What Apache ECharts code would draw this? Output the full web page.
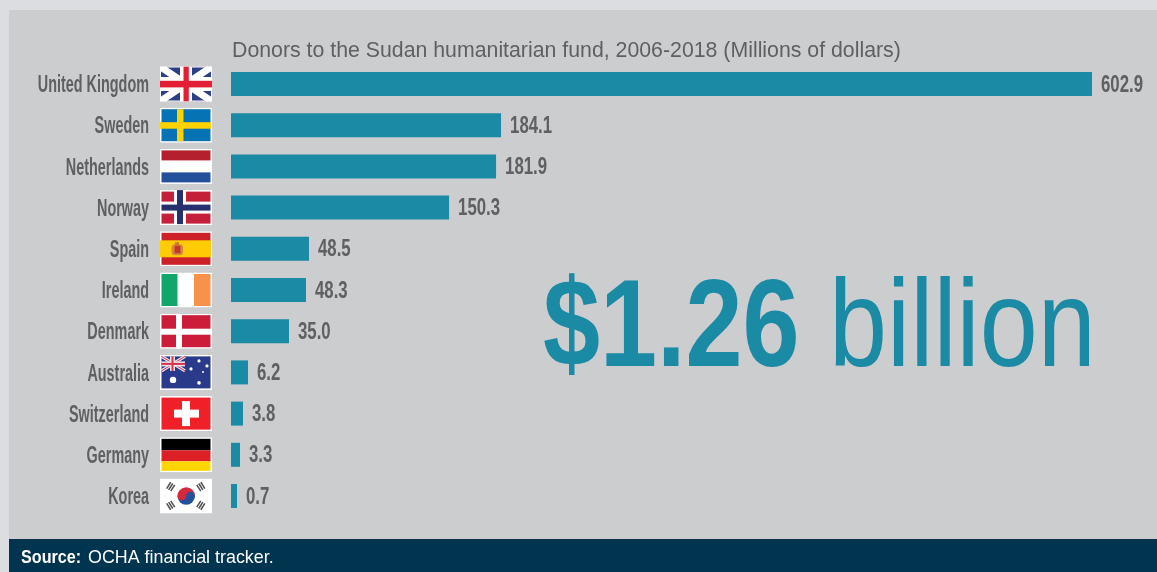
<!DOCTYPE html>
<html><head><meta charset="utf-8">
<style>html,body{margin:0;padding:0;background:#dcdde0}#c{width:1157px;height:572px}</style>
<script src="https://cdn.jsdelivr.net/npm/echarts@6/dist/echarts.min.js"></script>
</head><body><div id="c"></div>
<script>
const countries = ['United Kingdom','Sweden','Netherlands','Norway','Spain','Ireland','Denmark','Australia','Switzerland','Germany','Korea'];
// The figures printed in the reference.
const printedValues = ['602.9','184.1','181.9','150.3','48.5','48.3','35.0','6.2','3.8','3.3','0.7'];
// The reference's bars are not proportional to its printed figures (small bars are visibly too long),
// so these are the lengths as drawn in the units of the 602.9 bar.
const drawnBarLengths = [602.9,189.1,185.6,152.7,54.6,52.5,40.6,11.9,8.4,6.3,4.2];

const chartTitle = 'Donors to the Sudan humanitarian fund, 2006-2018 (Millions of dollars)';
const flags = [
 // UK
 `<rect width="52" height="35" fill="#fff"/><rect x="1" y="1" width="50" height="33" fill="#2b3d8b"/>
  <path d="M0 0L52 35M52 0L0 35" stroke="#fff" stroke-width="7"/>
  <rect x="20" width="12" height="35" fill="#fff"/><rect y="10.5" width="52" height="14" fill="#fff"/>
  <rect x="23.5" width="5.3" height="35" fill="#e21f36"/><rect y="14.3" width="52" height="6.6" fill="#e21f36"/>`,
 // Sweden
 `<rect width="52" height="35" fill="#fff"/><rect x="1.5" y="1.5" width="49" height="32" fill="#0573b4"/>
  <rect x="17" y="1.5" width="6.5" height="32" fill="#ffd200"/><rect x="0" y="14.5" width="51" height="6.5" fill="#ffd200"/>`,
 // Netherlands
 `<rect width="52" height="35" fill="#fff"/><rect x="1.5" y="1.5" width="49" height="10" fill="#b5202e"/>
  <rect x="1.5" y="23.5" width="49" height="10" fill="#24519b"/>`,
 // Norway
 `<rect width="52" height="35" fill="#fff"/><rect x="1.5" y="1.5" width="49" height="32" fill="#c4203a"/>
  <rect x="14" y="0" width="12" height="35" fill="#fff"/><rect x="0" y="11.5" width="52" height="12" fill="#fff"/>
  <rect x="17" y="0" width="6" height="34" fill="#27306f"/><rect x="1.5" y="14.5" width="49" height="6" fill="#27306f"/>`,
 // Spain
 `<rect width="52" height="35" fill="#fff"/><rect x="1.5" y="1.5" width="49" height="32" fill="#ce2027"/>
  <rect x="0" y="9" width="51" height="17" fill="#ffcb05"/>
  <rect x="11.5" y="13" width="11.5" height="11" rx="3.5" fill="#d88a3a"/><rect x="14.5" y="14.5" width="6" height="7.5" fill="#c23b2a"/>
  <rect x="15" y="11" width="4" height="3" fill="#c9772e"/>`,
 // Ireland
 `<rect width="52" height="35" fill="#fff"/><rect x="1.5" y="1.5" width="16" height="32" fill="#12a76a"/>
  <rect x="34" y="1.5" width="16.5" height="32" fill="#f7924a"/>`,
 // Denmark
 `<rect width="52" height="35" fill="#fff"/><rect x="1.5" y="1.5" width="49" height="32" fill="#cb1d3a"/>
  <rect x="16" y="0" width="6" height="35" fill="#fff"/><rect x="0" y="15" width="52" height="6" fill="#fff"/>`,
 // Australia
 `<rect width="52" height="35" fill="#fff"/><rect x="1.5" y="1.5" width="49" height="32" fill="#2a3a8a"/>
  <path d="M1.5 1.5L25 16M25 1.5L1.5 16" stroke="#e8e4ee" stroke-width="3"/><path d="M1.5 1.5L25 16M25 1.5L1.5 16" stroke="#d8324c" stroke-width="1"/>
  <rect x="10" y="1.5" width="5" height="14.5" fill="#e8e4ee"/><rect x="1.5" y="6.5" width="23.5" height="5" fill="#e8e4ee"/>
  <rect x="11.5" y="1.5" width="2" height="14.5" fill="#d8324c"/><rect x="1.5" y="8" width="23.5" height="2" fill="#d8324c"/>
  <circle cx="13" cy="25" r="3.2" fill="#fff"/><circle cx="39" cy="6" r="1.6" fill="#fff"/><circle cx="31" cy="14" r="1.6" fill="#fff"/>
  <circle cx="47" cy="11" r="1.6" fill="#fff"/><circle cx="39" cy="28" r="1.8" fill="#fff"/><circle cx="43" cy="17" r="1" fill="#fff"/>`,
 // Switzerland
 `<rect width="52" height="35" fill="#fff"/><rect x="1.5" y="1.5" width="49" height="32" fill="#ef2027"/>
  <rect x="22" y="5" width="8" height="25" fill="#fff"/><rect x="14" y="13.5" width="25" height="8" fill="#fff"/>`,
 // Germany
 `<rect width="52" height="35" fill="#fff"/><rect x="1.5" y="1.5" width="49" height="11.5" fill="#000"/>
  <rect x="1.5" y="13" width="49" height="11" fill="#dd1f26"/><rect x="1.5" y="24" width="49" height="9.5" fill="#ffd500"/>`,
 // Korea
 `<rect width="52" height="35" fill="#fff"/>
  <path d="M17.5 17.5A8.7 8.7 0 0 1 34.9 17.5Z" fill="#d6283a"/><path d="M17.5 17.5A8.7 8.7 0 0 0 34.9 17.5Z" fill="#24519b"/>
  <circle cx="21.85" cy="17.5" r="4.35" fill="#d6283a"/><circle cx="30.55" cy="17.5" r="4.35" fill="#24519b"/>
  <g stroke="#555" stroke-width="7.5" stroke-dasharray="1.6 .8" fill="none">
  <path d="M8 6.5L13.5 10"/><path d="M43.5 6.5L38 10"/><path d="M8 28.5L13.5 25"/><path d="M43.5 28.5L38 25"/></g>`
];
const flagUri = s => 'data:image/svg+xml;charset=utf-8,' + encodeURIComponent('<svg xmlns="http://www.w3.org/2000/svg" width="156" height="105" viewBox="0 0 52 35">' + s + '</svg>');

const sans = '"Liberation Sans",Arial,sans-serif';
const textColor = '#5f6062', teal = '#1a8aa5';
const chart = echarts.init(document.getElementById('c'), null, {renderer:'canvas'});
chart.setOption({
  animation:false,
  backgroundColor:'#dcdde0',
  grid:{left:231,right:65,top:63.4,bottom:55.4,containLabel:false,outerBoundsMode:'none'},
  xAxis:{type:'value',min:0,max:602.9,show:false},
  yAxis:{type:'category',inverse:true,data:countries,
    axisLine:{show:false},axisTick:{show:false},axisLabel:{show:false}},
  graphic:[
    {type:'rect',z:-10,silent:true,shape:{x:9,y:10,width:1148,height:529},style:{fill:'#cccdcf'}},
    {type:'rect',z:-10,silent:true,shape:{x:9,y:539,width:1148,height:33},style:{fill:'#00344f'}},
    {type:'text',x:232,y:51,scaleX:0.968,style:{text:chartTitle,fill:textColor,font:'22px '+sans,textVerticalAlign:'middle'}},
    {type:'text',x:21,y:558,scaleX:0.85,style:{text:'Source:',fill:'#fff',font:'bold 19px '+sans,textVerticalAlign:'middle'}},
    {type:'text',x:88,y:558,scaleX:0.94,style:{text:'OCHA financial tracker.',fill:'#fff',font:'19px '+sans,textVerticalAlign:'middle'}},
    {type:'text',x:543,y:332,scaleX:0.82,style:{text:'$1.26',fill:teal,font:'bold 125px '+sans,textVerticalAlign:'middle'}},
    {type:'text',x:829,y:332,scaleX:0.835,style:{text:'billion',fill:teal,font:'125px '+sans,textVerticalAlign:'middle'}}
  ],
  series:[
    {type:'bar',barWidth:24,itemStyle:{color:teal},data:drawnBarLengths},
    {type:'custom',coordinateSystem:'cartesian2d',silent:true,
     data:countries.map((c,i)=>[drawnBarLengths[i],c]),
     encode:{x:0,y:1},
     renderItem:(p,api)=>{
       const i=p.dataIndex, pt=api.coord([0,i]), end=api.coord([drawnBarLengths[i],i]);
       return {type:'group',children:[
         {type:'image',style:{image:flagUri(flags[i]),x:pt[0]-71,y:pt[1]-17.5,width:52,height:35}},
         {type:'text',x:149,y:pt[1]+1.5,scaleX:0.6,style:{text:countries[i],align:'right',verticalAlign:'middle',fill:textColor,font:'bold 24px '+sans}},
         {type:'text',x:end[0]+9,y:pt[1]+1,scaleX:0.7,style:{text:printedValues[i],align:'left',verticalAlign:'middle',fill:textColor,font:'bold 24px '+sans}}
       ]};
     }}
  ]
});
</script></body></html>
